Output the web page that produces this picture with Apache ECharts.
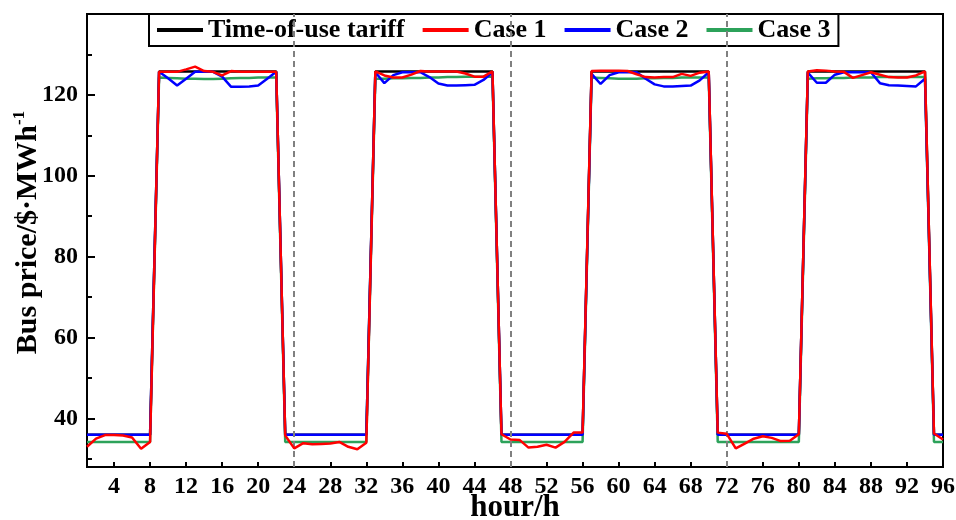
<!DOCTYPE html>
<html>
<head>
<meta charset="utf-8">
<title>Bus price</title>
<script src="https://cdn.jsdelivr.net/npm/echarts@6/dist/echarts.min.js"></script>
<style>
    html, body { margin: 0; padding: 0; background: #fff; }
    #chart-container { width: 956px; height: 520px; }
</style>
</head>
<body>
<div id="chart-container"></div>
<script>
// 横轴：时段 1..96
var hours = [
    1, 2, 3, 4, 5, 6, 7, 8, 9, 10, 11, 12, 13, 14, 15, 16,
    17, 18, 19, 20, 21, 22, 23, 24, 25, 26, 27, 28, 29, 30, 31, 32,
    33, 34, 35, 36, 37, 38, 39, 40, 41, 42, 43, 44, 45, 46, 47, 48,
    49, 50, 51, 52, 53, 54, 55, 56, 57, 58, 59, 60, 61, 62, 63, 64,
    65, 66, 67, 68, 69, 70, 71, 72, 73, 74, 75, 76, 77, 78, 79, 80,
    81, 82, 83, 84, 85, 86, 87, 88, 89, 90, 91, 92, 93, 94, 95, 96
];
var xTicks = [4, 8, 12, 16, 20, 24, 28, 32, 36, 40, 44, 48, 52, 56, 60, 64, 68, 72, 76, 80, 84, 88, 92, 96];
var yTicks = [40, 60, 80, 100, 120];
var yMinorTicks = [30, 50, 70, 90, 110, 130];
var dividers = [24, 48, 72];
var seriesNames = ['Time-of-use tariff', 'Case 1', 'Case 2', 'Case 3'];

// 分时电价
var touTariff = [
    36, 36, 36, 36, 36, 36, 36, 36,
    125.8, 125.8, 125.8, 125.8, 125.8, 125.8, 125.8, 125.8, 125.8, 125.8, 125.8, 125.8, 125.8, 125.8,
    36, 36, 36, 36, 36, 36, 36, 36, 36, 36,
    125.8, 125.8, 125.8, 125.8, 125.8, 125.8, 125.8, 125.8, 125.8, 125.8, 125.8, 125.8, 125.8, 125.8,
    36, 36, 36, 36, 36, 36, 36, 36, 36, 36,
    125.8, 125.8, 125.8, 125.8, 125.8, 125.8, 125.8, 125.8, 125.8, 125.8, 125.8, 125.8, 125.8, 125.8,
    36, 36, 36, 36, 36, 36, 36, 36, 36, 36,
    125.8, 125.8, 125.8, 125.8, 125.8, 125.8, 125.8, 125.8, 125.8, 125.8, 125.8, 125.8, 125.8, 125.8,
    36, 36
];
// Case 1
var case1 = [
    33.0, 35.0, 35.9, 35.9, 35.8, 35.3, 32.5, 34.2,
    125.7, 125.7, 125.7, 126.3, 127.0, 125.9, 125.7, 124.8, 125.9, 125.7, 125.7, 125.7, 125.7, 125.7,
    35.8, 32.6, 33.9, 33.6, 33.7, 33.8, 34.2, 33.0, 32.4, 34.0,
    125.8, 124.8, 124.3, 124.3, 125.0, 125.9, 125.8, 125.8, 125.8, 125.8, 125.3, 124.5, 124.5, 125.8,
    36.1, 34.8, 34.7, 32.8, 33.0, 33.5, 32.8, 34.2, 36.5, 36.5,
    125.9, 126.0, 126.0, 126.0, 125.9, 125.1, 124.4, 124.3, 124.4, 124.4, 125.2, 124.7, 125.5, 125.8,
    36.5, 36.2, 32.6, 33.8, 35.0, 35.6, 35.2, 34.4, 34.5, 36.1,
    125.8, 126.1, 126.0, 125.8, 125.7, 124.2, 124.9, 125.6, 125.0, 124.4, 124.3, 124.3, 124.8, 125.8,
    36.3, 34.8
];
// Case 2
var case2 = [
    36, 36, 36, 36, 36, 36, 36, 36,
    125.7, 124.1, 122.3, 124.0, 125.7, 125.7, 125.7, 124.5, 122.0, 122.0, 122.1, 122.3, 124.0, 125.7,
    36, 36, 36, 36, 36, 36, 36, 36, 36, 36,
    125.6, 122.9, 124.9, 125.6, 125.6, 125.6, 124.4, 122.8, 122.3, 122.3, 122.4, 122.5, 123.7, 125.6,
    36, 36, 36, 36, 36, 36, 36, 36, 36, 36,
    125.2, 122.7, 124.9, 125.6, 125.6, 125.6, 124.0, 122.6, 122.1, 122.1, 122.2, 122.3, 123.6, 125.6,
    36, 36, 36, 36, 36, 36, 36, 36, 36, 36,
    125.5, 123.0, 123.0, 125.0, 125.6, 125.6, 125.6, 125.6, 122.9, 122.4, 122.3, 122.2, 122.1, 124.0,
    36, 36
];
// Case 3
var case3 = [
    34.2, 34.2, 34.2, 34.2, 34.2, 34.2, 34.2, 34.2,
    124.3, 124.2, 124.1, 124.0, 124.0, 123.9, 123.9, 124.0, 124.1, 124.2, 124.2, 124.3, 124.3, 124.3,
    34.2, 34.2, 34.2, 34.2, 34.2, 34.2, 34.2, 34.2, 34.2, 34.2,
    124.0, 124.0, 124.1, 124.1, 124.2, 124.2, 124.3, 124.3, 124.4, 124.4, 124.5, 124.5, 124.5, 124.5,
    34.2, 34.2, 34.2, 34.2, 34.2, 34.2, 34.2, 34.2, 34.2, 34.2,
    124.3, 124.2, 124.1, 124.0, 124.0, 124.0, 124.1, 124.1, 124.2, 124.2, 124.3, 124.3, 124.3, 124.3,
    34.2, 34.2, 34.2, 34.2, 34.2, 34.2, 34.2, 34.2, 34.2, 34.2,
    124.0, 124.1, 124.1, 124.2, 124.2, 124.3, 124.3, 124.3, 124.4, 124.4, 124.4, 124.4, 124.4, 124.4,
    34.2, 34.2
];

var FONT = 'Liberation Serif';

// 把横纵坐标拼成点
function pairs(values) {
    return hours.map(function (h, i) { return [h, values[i]]; });
}

function lineSeries(name, values, color, z) {
    return {
        name: name,
        type: 'line',
        data: pairs(values),
        showSymbol: false,
        symbol: 'none',
        z: z,
        lineStyle: { color: color, width: 2.5 },
        itemStyle: { color: color },
        emphasis: { disabled: true }
    };
}

var chart = echarts.init(document.getElementById('chart-container'));

var tariffSeries = lineSeries(seriesNames[0], touTariff, '#000000', 2);
// 每 24 个时段一条灰色虚线
tariffSeries.markLine = {
    silent: true,
    symbol: 'none',
    label: { show: false },
    lineStyle: { color: '#808080', type: [6, 4], width: 2 },
    data: dividers.map(function (d) { return { xAxis: d }; })
};

var option = {
    animation: false,
    backgroundColor: '#fff',
    grid: {
        left: 87, right: 13, top: 14, bottom: 53,
        outerBoundsMode: 'none',
        show: true,
        borderColor: '#000',
        borderWidth: 2
    },
    legend: {
        data: seriesNames,
        left: 149,
        top: 14,
        padding: [3, 8],
        itemGap: 18,
        itemWidth: 46,
        itemHeight: 4,
        icon: 'rect',
        borderColor: '#000',
        borderWidth: 2,
        backgroundColor: '#fff',
        textStyle: { fontFamily: FONT, fontWeight: 'bold', fontSize: 26, color: '#000' }
    },
    xAxis: {
        type: 'value',
        min: 1,
        max: 96,
        name: 'hour/h',
        nameLocation: 'middle',
        nameGap: 25,
        nameMoveOverlap: false,
        nameTextStyle: { fontFamily: FONT, fontWeight: 'bold', fontSize: 31, color: '#000' },
        splitLine: { show: false },
        axisLine: { lineStyle: { color: '#000', width: 2 } },
        axisTick: { inside: true, length: 5, customValues: xTicks, lineStyle: { color: '#000', width: 2 } },
        axisLabel: {
            customValues: xTicks,
            margin: 8,
            fontFamily: FONT, fontWeight: 'bold', fontSize: 24, color: '#000'
        }
    },
    yAxis: [
        {
            type: 'value',
            min: 28,
            max: 140,
            name: '{a|Bus price/$·MWh}{b|-1}',
            nameLocation: 'middle',
            nameGap: 42,
            nameMoveOverlap: false,
            nameTextStyle: {
                padding: [0, 0, 0, 16],
                rich: {
                    a: { fontFamily: FONT, fontWeight: 'bold', fontSize: 30, color: '#000', lineHeight: 34 },
                    b: { fontFamily: FONT, fontWeight: 'bold', fontSize: 17, color: '#000', verticalAlign: 'top', lineHeight: 34 }
                }
            },
            splitLine: { show: false },
            axisLine: { show: true, lineStyle: { color: '#000', width: 2 } },
            axisTick: { inside: true, length: 8, customValues: yTicks, lineStyle: { color: '#000', width: 2 } },
            axisLabel: {
                customValues: yTicks,
                margin: 9,
                fontFamily: FONT, fontWeight: 'bold', fontSize: 24, color: '#000'
            }
        },
        {
            // 次刻度
            type: 'value',
            min: 28,
            max: 140,
            position: 'left',
            splitLine: { show: false },
            axisLine: { show: false },
            axisLabel: { show: false },
            axisTick: { inside: true, length: 5, customValues: yMinorTicks, lineStyle: { color: '#000', width: 2 } }
        }
    ],
    series: [
        tariffSeries,
        lineSeries(seriesNames[1], case1, '#ff0000', 5),
        lineSeries(seriesNames[2], case2, '#0000ff', 4),
        lineSeries(seriesNames[3], case3, '#2ca25a', 3)
    ]
};

chart.setOption(option);
</script>
</body>
</html>
